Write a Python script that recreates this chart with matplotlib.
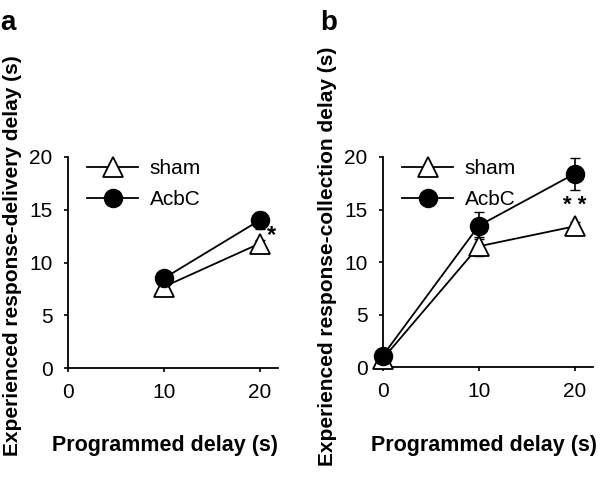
import matplotlib
matplotlib.use("Agg")
import matplotlib.pyplot as plt

plt.rcParams['font.family'] = ['Liberation Sans', 'DejaVu Sans']

# panel a: response-delivery delay
delays_a = [10, 20]
sham_a = [7.7, 11.8]
sham_a_err = [0.3, 0.3]
acbc_a = [8.5, 14.0]
acbc_a_err = [0.4, 0.8]

# panel b: response-collection delay
delays_b = [0, 10, 20]
sham_b = [0.8, 11.5, 13.4]
sham_b_err = [0.2, 0.9, 0.4]
acbc_b = [1.1, 13.45, 18.4]
acbc_b_err = [0.3, 1.3, 1.5]

fig = plt.figure(figsize=(6, 4.8), dpi=100)
ax_a = fig.add_axes([0.113, 0.233, 0.35, 0.44])
ax_b = fig.add_axes([0.638, 0.235, 0.35, 0.438])


def style_axes(ax, ylabel, ylab_x, xlab_x):
    ax.spines['top'].set_visible(False)
    ax.spines['right'].set_visible(False)
    ax.spines['left'].set_linewidth(1.3)
    ax.spines['bottom'].set_linewidth(1.3)
    ax.set_xlim(0, 21.9)
    ax.set_ylim(0, 20)
    ax.set_xticks([0, 10, 20])
    ax.set_yticks([0, 5, 10, 15, 20])
    ax.tick_params(direction='out', length=3, width=1.2, labelsize=15, pad=8)
    ax.set_xlabel("Programmed delay (s)", fontsize=15.5, fontweight='bold')
    ax.set_ylabel(ylabel, fontsize=15, fontweight='bold')
    ax.xaxis.set_label_coords(xlab_x, 0.094, transform=fig.transFigure)
    ax.yaxis.set_label_coords(ylab_x, 0.467, transform=fig.transFigure)


def draw(ax, x, sham, sham_err, acbc, acbc_err):
    # error bars first, then the lines with markers on top
    ax.errorbar(x, sham, yerr=sham_err, fmt='none', ecolor='black',
                capsize=3.5, elinewidth=1.2, clip_on=False, zorder=2)
    ax.errorbar(x, acbc, yerr=acbc_err, fmt='none', ecolor='black',
                capsize=3.5, elinewidth=1.2, clip_on=False, zorder=2)
    ax.plot(x, sham, color='black', marker='^', markersize=14,
            markerfacecolor='white', markeredgecolor='black', markeredgewidth=1.3,
            lw=1.3, label='sham', clip_on=False, zorder=3)
    ax.plot(x, acbc, color='black', marker='o', markersize=13,
            markerfacecolor='black', lw=1.3, label='AcbC', clip_on=False, zorder=4)
    ax.legend(loc='upper left', bbox_to_anchor=(0.052, 1.03), frameon=False,
              fontsize=15, handlelength=2.45, handletextpad=0.55,
              labelspacing=0.6, borderaxespad=0)


draw(ax_a, delays_a, sham_a, sham_a_err, acbc_a, acbc_a_err)
style_axes(ax_a, "Experienced response-delivery delay (s)", 0.036, 0.275)
ax_a.text(21.2, 12.6, "*", fontsize=17, fontweight='bold', ha='center', va='center')

draw(ax_b, delays_b, sham_b, sham_b_err, acbc_b, acbc_b_err)
style_axes(ax_b, "Experienced response-collection delay (s)", 0.562, 0.807)
ax_b.text(20, 15.4, "* *", fontsize=16, fontweight='bold', ha='center', va='center')

fig.text(0.0, 0.9375, "a", fontsize=20, fontweight='bold', va='baseline')
fig.text(0.533, 0.9375, "b", fontsize=20, fontweight='bold', va='baseline')

fig.savefig("out.png", dpi=100)
